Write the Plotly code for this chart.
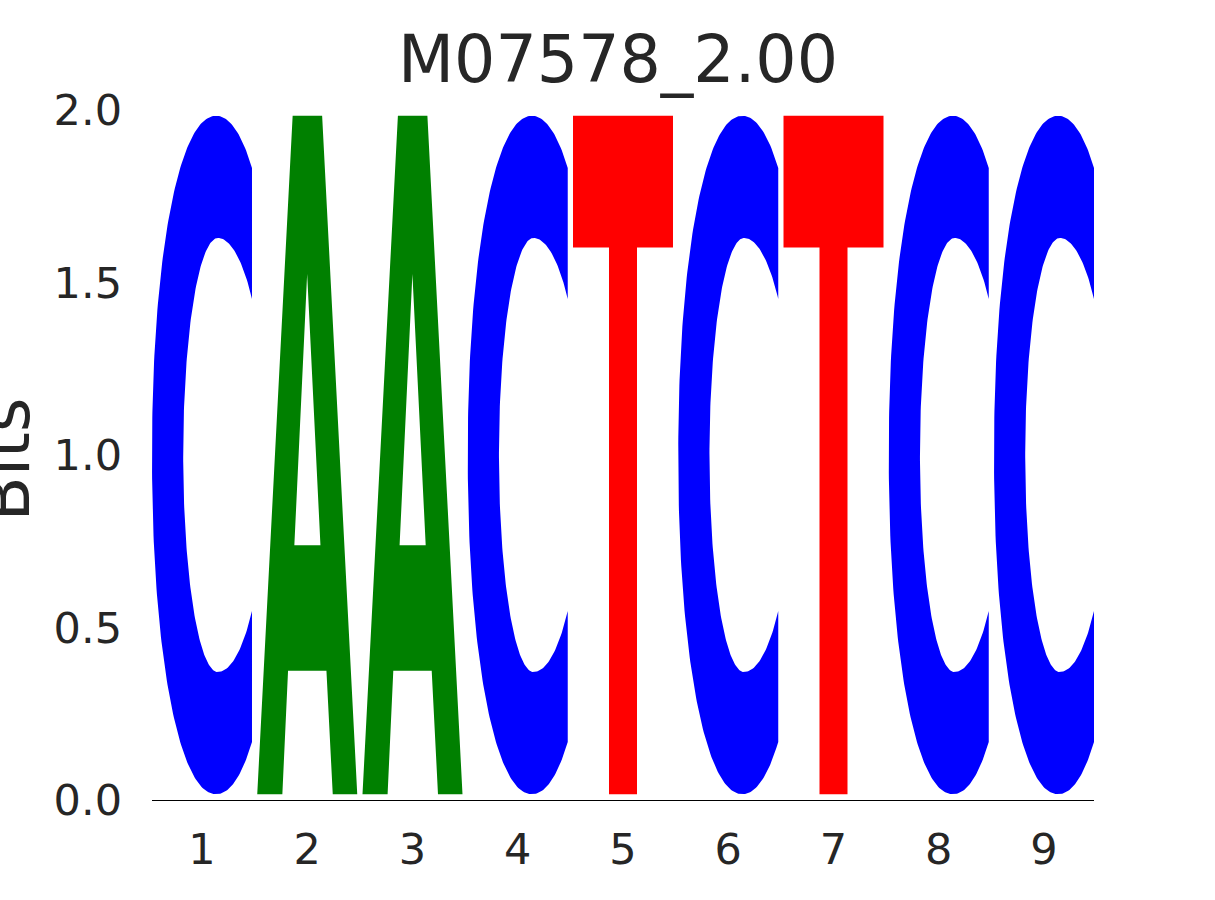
import numpy as np
import plotly.graph_objects as go

# ---------------- data ----------------
title_text = "M07578_2.00"
positions = [1, 2, 3, 4, 5, 6, 7, 8, 9]
letters = ["C", "A", "A", "C", "T", "C", "T", "C", "C"]
heights = [2.0, 2.0, 2.0, 2.0, 2.0, 2.0, 2.0, 2.0, 2.0]   # information (bits)
ytick_vals = [0.0, 0.5, 1.0, 1.5, 2.0]
ytick_text = ["0.0", "0.5", "1.0", "1.5", "2.0"]
ylabel = "Bits"

# ---------------- style ----------------
colors = {"A": "#008000", "C": "#0000ff", "G": "#ffa500", "T": "#ff0000"}
glyph_width = 0.95
vpad = 0.0085          # fraction of stack height left empty top & bottom
text_color = "#262626"
font_family = "DejaVu Sans"


# ---------------- glyph outlines in unit box ----------------
def glyph_C():
    cx, a, cy, b, n = 0.641, 0.641, 0.5, 0.5, 2.1
    t_o = np.arccos(((1 - cx) / a) ** (n / 2))
    t = np.linspace(t_o, 2 * np.pi - t_o, 240)
    c, s = np.cos(t), np.sin(t)
    uo = cx + a * np.sign(c) * np.abs(c) ** (2 / n)
    vo = cy + b * np.sign(s) * np.abs(s) ** (2 / n)
    cxi, cyi, bi, al, ar = 0.658, 0.5, 0.32, 0.346, 0.492
    t_i = np.arccos((1 - cxi) / ar)
    ti = np.linspace(2 * np.pi - t_i, t_i, 240)
    ci, si = np.cos(ti), np.sin(ti)
    ui = cxi + np.where(ci > 0, ar, al) * ci
    vi = cyi + bi * si
    u = np.concatenate([uo, [1.0], ui, [uo[0]]])
    v = np.concatenate([vo, [vo[-1]], vi, [vo[0]]])
    return u, v


def glyph_A():
    pts = [(0.0, 0.0), (0.251, 0.0), (0.308, 0.182), (0.692, 0.182),
           (0.755, 0.0), (1.0, 0.0), (0.649, 1.0), (0.5, 1.0),
           (0.499, 0.767), (0.632, 0.367), (0.371, 0.367), (0.499, 0.767),
           (0.5, 1.0), (0.354, 1.0), (0.0, 0.0)]
    u, v = zip(*pts)
    return np.array(u), np.array(v)


def glyph_T():
    pts = [(0.0, 1.0), (1.0, 1.0), (1.0, 0.806), (0.64, 0.806), (0.64, 0.0),
           (0.36, 0.0), (0.36, 0.806), (0.0, 0.806), (0.0, 1.0)]
    u, v = zip(*pts)
    return np.array(u), np.array(v)


glyphs = {"A": glyph_A, "C": glyph_C, "T": glyph_T}

fig = go.Figure()
for p, letter, h in zip(positions, letters, heights):
    u, v = glyphs[letter]()
    x = p - glyph_width / 2 + u * glyph_width
    y0 = vpad * h
    y = y0 + v * (h - 2 * vpad * h)
    fig.add_trace(go.Scatter(x=x, y=y, mode="lines", fill="toself",
                             fillcolor=colors[letter],
                             line=dict(width=0, color=colors[letter]),
                             hoverinfo="skip", showlegend=False))

fig.update_layout(
    width=1215, height=900,
    margin=dict(l=152, r=121, t=110, b=100),
    plot_bgcolor="white", paper_bgcolor="white",
    font=dict(family=font_family, color=text_color),
    showlegend=False,
    xaxis=dict(range=[positions[0] - glyph_width / 2, positions[-1] + glyph_width / 2],
               tickmode="array", tickvals=positions,
               ticktext=[str(p) for p in positions],
               showgrid=False, zeroline=False, showline=True,
               linecolor="black", linewidth=1.3, ticks="",
               tickfont=dict(size=43, color=text_color),
               ticklabelstandoff=11),
    yaxis=dict(range=[0, 2], tickmode="array", tickvals=ytick_vals,
               ticktext=ytick_text, showgrid=False, zeroline=False,
               showline=False, ticks="",
               tickfont=dict(size=43, color=text_color),
               ticklabelstandoff=29),
    annotations=[
        dict(text=title_text, xref="paper", yref="paper",
             x=(618 - 152) / 942, y=(800 - 60) / 690,
             xanchor="center", yanchor="middle", showarrow=False,
             font=dict(size=65, color=text_color, family=font_family)),
        dict(text=ylabel, xref="paper", yref="paper",
             x=(6 - 152) / 942, y=(800 - 459.5) / 690, textangle=-90,
             xanchor="center", yanchor="middle", showarrow=False,
             font=dict(size=66, color=text_color, family=font_family)),
    ],
)

fig.write_html("out.html", config={"displayModeBar": False},
               post_script="document.body.style.margin='0';document.body.style.padding='0';")
